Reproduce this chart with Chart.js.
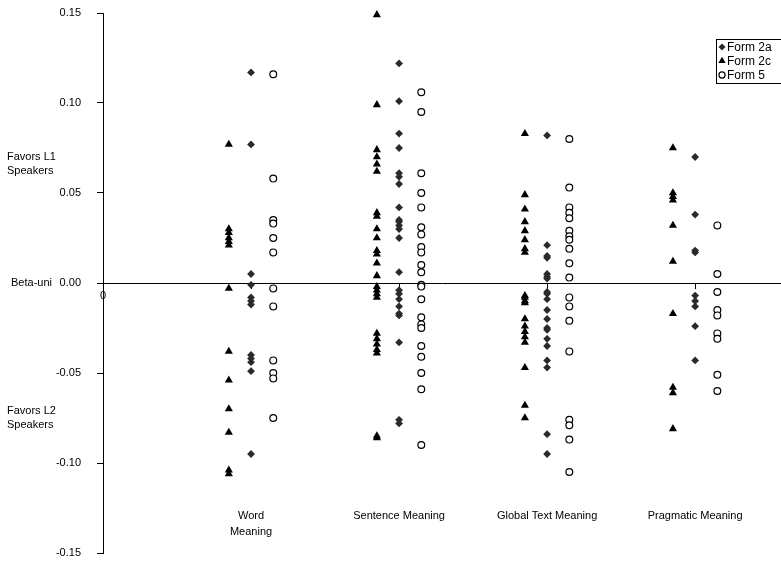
<!DOCTYPE html>
<html><head><meta charset="utf-8">
<script src="https://cdn.jsdelivr.net/npm/chart.js@4/dist/chart.umd.min.js"></script>
<style>html,body{margin:0;padding:0;background:#fff;overflow:hidden}#wrap{width:781px;height:561px}</style>
</head><body><div id="wrap"><canvas id="c" width="781" height="561"></canvas></div>
<script>
// ---- categories / labels ----
const categories = [['Word', 'Meaning'], 'Sentence Meaning', 'Global Text Meaning', 'Pragmatic Meaning'];
const seriesNames = ['Form 2a', 'Form 2c', 'Form 5'];
const yTickValues = [-0.15, -0.10, -0.05, 0.00, 0.05, 0.10, 0.15];
const sideLabels = [['Favors L1', 'Speakers'], ['Beta-uni'], ['Favors L2', 'Speakers']];
const sideLabelValues = [0.066, 0.0, -0.075];

// ---- Form 2a (diamonds) ----
const form2aWord = [0.117, 0.077, 0.005, -0.001, -0.008, -0.010, -0.012, -0.040, -0.042, -0.044, -0.049, -0.095];
const form2aSentence = [0.122, 0.101, 0.083, 0.075, 0.061, 0.059, 0.055, 0.042, 0.035, 0.034, 0.032, 0.030, 0.025, 0.006, -0.004, -0.006, -0.009, -0.013, -0.017, -0.018, -0.033, -0.076, -0.078];
const form2aGlobal = [0.082, 0.021, 0.015, 0.014, 0.005, 0.0035, 0.0025, -0.005, -0.006, -0.009, -0.015, -0.020, -0.025, -0.026, -0.031, -0.035, -0.043, -0.047, -0.084, -0.095];
const form2aPragmatic = [0.070, 0.038, 0.018, 0.017, -0.007, -0.010, -0.013, -0.024, -0.043];

// ---- Form 2c (triangles) ----
const form2cWord = [0.077, 0.030, 0.028, 0.025, 0.023, 0.021, -0.003, -0.038, -0.054, -0.070, -0.083, -0.104, -0.106];
const form2cSentence = [0.149, 0.099, 0.074, 0.070, 0.066, 0.062, 0.039, 0.037, 0.030, 0.025, 0.018, 0.016, 0.011, 0.004, -0.002, -0.004, -0.006, -0.008, -0.028, -0.031, -0.034, -0.037, -0.039, -0.085, -0.086];
const form2cGlobal = [0.083, 0.049, 0.041, 0.034, 0.029, 0.024, 0.019, 0.017, -0.007, -0.008, -0.010, -0.011, -0.020, -0.024, -0.027, -0.030, -0.033, -0.047, -0.068, -0.075];
const form2cPragmatic = [0.075, 0.050, 0.048, 0.046, 0.032, 0.012, -0.017, -0.058, -0.061, -0.081];

// ---- Form 5 (open circles) ----
const form5Word = [0.116, 0.058, 0.035, 0.033, 0.025, 0.017, -0.003, -0.013, -0.043, -0.050, -0.053, -0.075];
const form5Sentence = [0.106, 0.095, 0.061, 0.050, 0.042, 0.031, 0.027, 0.020, 0.017, 0.010, 0.006, -0.001, -0.002, -0.009, -0.019, -0.023, -0.025, -0.035, -0.041, -0.050, -0.059, -0.090];
const form5Global = [0.080, 0.053, 0.042, 0.039, 0.036, 0.029, 0.026, 0.024, 0.019, 0.011, 0.003, -0.008, -0.013, -0.021, -0.038, -0.076, -0.079, -0.087, -0.105];
const form5Pragmatic = [0.032, 0.005, -0.005, -0.015, -0.018, -0.028, -0.031, -0.051, -0.060];

// ---- build points (category index + series offset) ----
const FONT = "'Liberation Sans', Arial, sans-serif";
function pts(groups, offset) {
  const out = [];
  groups.forEach((arr, i) => arr.forEach(v => out.push({ x: i + 1 + offset, y: v })));
  return out;
}
const seriesGroups = [
  [form2aWord, form2aSentence, form2aGlobal, form2aPragmatic],
  [form2cWord, form2cSentence, form2cGlobal, form2cPragmatic],
  [form5Word, form5Sentence, form5Global, form5Pragmatic]
];
const seriesOffsets = [0, -0.15, 0.15];
const seriesStyles = [
  { pointStyle: 'rectRot', radius: 3.9, backgroundColor: '#2a2a2a', borderColor: '#2a2a2a', borderWidth: 0 },
  { pointStyle: 'triangle', radius: 4.7, backgroundColor: '#000', borderColor: '#000', borderWidth: 0 },
  { pointStyle: 'circle', radius: 3.4, backgroundColor: '#fff', borderColor: '#000', borderWidth: 1.2 }
];
const datasets = seriesNames.map((name, k) => ({
  label: name,
  data: pts(seriesGroups[k], seriesOffsets[k]),
  pointStyle: seriesStyles[k].pointStyle,
  pointRadius: seriesStyles[k].radius,
  pointHoverRadius: seriesStyles[k].radius,
  pointBackgroundColor: seriesStyles[k].backgroundColor,
  pointBorderColor: seriesStyles[k].borderColor,
  pointBorderWidth: seriesStyles[k].borderWidth,
  showLine: false,
  clip: false
}));

const XMAX = 4.58;

function drawMarker(ctx, style, x, y) {
  ctx.save();
  ctx.fillStyle = style.backgroundColor;
  ctx.strokeStyle = style.borderColor;
  ctx.lineWidth = style.borderWidth;
  const r = style.radius;
  ctx.beginPath();
  if (style.pointStyle === 'rectRot') {
    ctx.moveTo(x, y - r); ctx.lineTo(x + r, y); ctx.lineTo(x, y + r); ctx.lineTo(x - r, y); ctx.closePath();
    ctx.fill();
  } else if (style.pointStyle === 'triangle') {
    ctx.moveTo(x, y - r); ctx.lineTo(x + r * 0.866, y + r * 0.5); ctx.lineTo(x - r * 0.866, y + r * 0.5); ctx.closePath();
    ctx.fill();
  } else {
    ctx.arc(x, y, r, 0, Math.PI * 2); ctx.fill(); if (style.borderWidth > 0) ctx.stroke();
  }
  ctx.restore();
}

const extrasPlugin = {
  id: 'extras',
  afterDraw(chart) {
    const ctx = chart.ctx;
    const ys = chart.scales.y;
    ctx.save();
    ctx.font = '11px ' + FONT;
    ctx.fillStyle = '#000';
    ctx.textBaseline = 'middle';
    // side labels
    sideLabels.forEach((lines, i) => {
      const yc = ys.getPixelForValue(sideLabelValues[i]);
      const n = lines.length;
      lines.forEach((t, j) => {
        ctx.textAlign = i === 1 ? 'right' : 'left';
        const xx = i === 1 ? 52 : 7;
        ctx.fillText(t, xx, yc + (j - (n - 1) / 2) * 14);
      });
    });
    // legend
    const lx = 716, ly = 39;
    ctx.font = '12px ' + FONT;
    ctx.strokeStyle = '#000';
    ctx.lineWidth = 1;
    ctx.strokeRect(lx + 0.5, ly + 0.5, 90, 44);
    ctx.textAlign = 'left';
    seriesNames.forEach((name, k) => {
      const yy = ly + 8 + k * 14;
      drawMarker(ctx, Object.assign({}, seriesStyles[k], { radius: seriesStyles[k].radius * 0.9 }), lx + 6, yy);
      ctx.fillStyle = '#000';
      ctx.fillText(name, lx + 11, yy + 0.5);
    });
    ctx.restore();
  }
};

function zeroPad(s) { s.paddingTop = 0; s.paddingBottom = 0; s.paddingLeft = 0; s.paddingRight = 0; }

new Chart(document.getElementById('c'), {
  type: 'scatter',
  data: { datasets },
  plugins: [extrasPlugin],
  options: {
    responsive: false,
    animation: false,
    events: [],
    layout: { autoPadding: false, padding: { left: 0, right: 0, top: 13, bottom: 8 } },
    plugins: { legend: { display: false }, tooltip: { enabled: false } },
    scales: {
      x: {
        type: 'linear', min: 0, max: XMAX,
        position: { y: 0 },
        afterBuildTicks: s => { s.ticks = [0, 1, 2, 3, 4].map(v => ({ value: v })); },
        afterFit: s => { zeroPad(s); s.height = 0; },
        ticks: { callback: v => (v === 0 ? '0' : ''), font: { family: FONT, size: 11 }, color: '#000', padding: 1, maxRotation: 0, autoSkip: false },
        grid: { display: true, drawOnChartArea: false, drawTicks: true, tickLength: 5, color: '#000', lineWidth: 1 },
        border: { display: true, color: '#000', width: 1 }
      },
      xCat: {
        type: 'linear', axis: 'x', min: 0, max: XMAX,
        position: { y: -0.1253 },
        afterBuildTicks: s => { s.ticks = [1, 2, 3, 4].map(v => ({ value: v })); },
        afterFit: s => { zeroPad(s); s.height = 0; },
        ticks: { callback: v => categories[v - 1], font: { family: FONT, size: 11, lineHeight: 1.4 }, color: '#000', padding: 0, maxRotation: 0, autoSkip: false },
        grid: { display: false, drawTicks: false },
        border: { display: false }
      },
      y: {
        type: 'linear', min: -0.15, max: 0.15,
        afterBuildTicks: s => { s.ticks = yTickValues.map(v => ({ value: v })); },
        afterFit: s => { s.width = 103; zeroPad(s); },
        ticks: { callback: v => (Math.abs(v) < 1e-9 ? 0 : v).toFixed(2), font: { family: FONT, size: 11 }, color: '#000', padding: 16 },
        grid: { display: true, drawOnChartArea: false, drawTicks: true, tickLength: 6, color: '#000', lineWidth: 1 },
        border: { display: true, color: '#000', width: 1 }
      }
    }
  }
});
</script>
</body></html>
